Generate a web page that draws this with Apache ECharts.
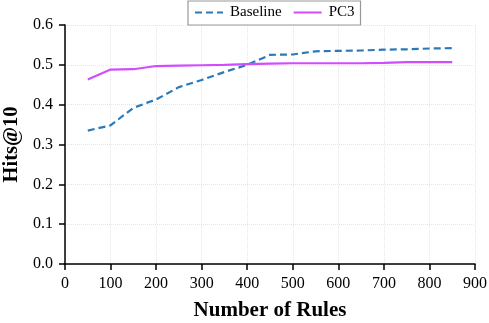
<!DOCTYPE html>
<html>
<head>
<meta charset="utf-8">
<script src="https://cdn.jsdelivr.net/npm/echarts@6/dist/echarts.min.js"></script>
<style>
  html, body { margin: 0; padding: 0; background: #fff; }
  #main { width: 489px; height: 323px; }
</style>
</head>
<body>
<div id="main"></div>
<script>
var rules = [50, 100, 150, 200, 250, 300, 350, 400, 450, 500, 550, 600, 650, 700, 750, 800, 850];
var baseline = [0.335, 0.348, 0.392, 0.413, 0.444, 0.462, 0.482, 0.500, 0.525, 0.526, 0.534, 0.535, 0.536, 0.538, 0.539, 0.541, 0.542];
var pc3 = [0.463, 0.488, 0.489, 0.497, 0.498, 0.499, 0.500, 0.502, 0.503, 0.504, 0.504, 0.504, 0.504, 0.505, 0.507, 0.507, 0.507];

function pairs(xs, ys) {
  var out = [];
  for (var i = 0; i < xs.length; i++) {
    out.push([xs[i], ys[i]]);
  }
  return out;
}

var chart = echarts.init(document.getElementById('main'), null, { renderer: 'canvas' });
var serif = 'Liberation Serif, Times New Roman, serif';

var option = {
  animation: false,
  textStyle: { fontFamily: serif },
  legend: {
    data: ['Baseline', 'PC3'],
    top: 1,
    left: 188,
    itemWidth: 28,
    itemHeight: 10,
    itemGap: 11,
    padding: [4, 6, 5, 6],
    borderColor: '#999',
    borderWidth: 1.2,
    borderRadius: 0,
    itemStyle: { opacity: 0 },
    textStyle: { fontFamily: serif, fontSize: 15, color: '#000', padding: [0, 0, 0, 2] }
  },
  grid: { left: 65, right: 14, top: 25, bottom: 59, outerBoundsMode: 'none' },
  xAxis: {
    type: 'value',
    min: 0,
    max: 900,
    interval: 100,
    name: 'Number of Rules',
    nameLocation: 'middle',
    nameGap: 36,
    nameTextStyle: { fontFamily: serif, fontSize: 21, fontWeight: 'bold', color: '#000' },
    axisLine: { lineStyle: { color: '#000', width: 1.5 } },
    axisTick: { lineStyle: { color: '#000', width: 1.5 }, length: 6 },
    axisLabel: { fontFamily: serif, fontSize: 16, color: '#000', margin: 12 },
    splitLine: { show: true, lineStyle: { color: '#e6e6e6', type: 'dotted' } }
  },
  yAxis: {
    type: 'value',
    min: 0,
    max: 0.6,
    interval: 0.1,
    name: 'Hits@10',
    nameLocation: 'middle',
    nameGap: 43,
    nameTextStyle: { fontFamily: serif, fontSize: 20.5, fontWeight: 'bold', color: '#000' },
    axisLine: { show: true, lineStyle: { color: '#000', width: 1.5 } },
    axisTick: { show: true, lineStyle: { color: '#000', width: 1.5 }, length: 6 },
    axisLabel: {
      fontFamily: serif, fontSize: 16, color: '#000', margin: 12,
      formatter: function (v) { return v.toFixed(1); }
    },
    splitLine: { show: true, lineStyle: { color: '#e6e6e6', type: 'dotted' } }
  },
  series: [{
    name: 'Baseline',
    type: 'line',
    data: pairs(rules, baseline),
    symbol: 'none',
    color: '#2a7ab9',
    lineStyle: { width: 2.2, type: [7, 4] }
  }, {
    name: 'PC3',
    type: 'line',
    data: pairs(rules, pc3),
    symbol: 'none',
    color: '#d04cff',
    lineStyle: { width: 2.2 }
  }]
};

chart.setOption(option);
</script>
</body>
</html>
